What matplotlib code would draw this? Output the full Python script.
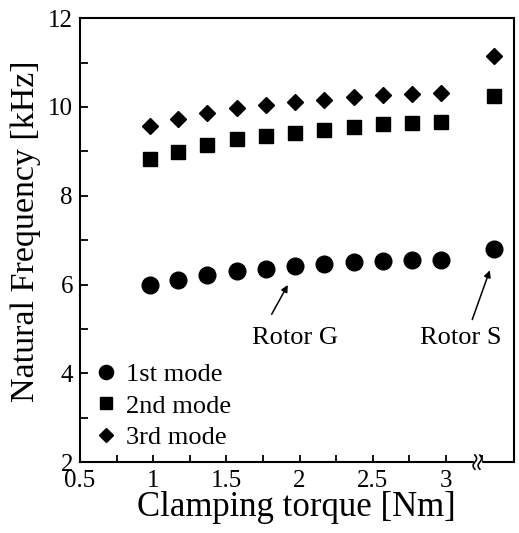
import numpy as np
import matplotlib
matplotlib.use("Agg")
import matplotlib.pyplot as plt
from matplotlib.ticker import MultipleLocator

plt.rcParams['font.family'] = ['Liberation Serif', 'DejaVu Serif']

# clamping torque [Nm] for rotor G, rotor S is drawn past the axis break
torque = [0.98, 1.17, 1.37, 1.57, 1.77, 1.97, 2.17, 2.37, 2.57, 2.77, 2.97]
rotor_s_pos = 3.33
mode1 = [6.00, 6.10, 6.21, 6.31, 6.34, 6.42, 6.47, 6.51, 6.53, 6.55, 6.55]
mode2 = [8.82, 8.99, 9.14, 9.27, 9.34, 9.42, 9.48, 9.54, 9.61, 9.63, 9.66]
mode3 = [9.57, 9.72, 9.86, 9.97, 10.05, 10.10, 10.15, 10.23, 10.26, 10.28, 10.31]
rotor_s = [6.81, 10.25, 11.14]
labels = ['1st mode', '2nd mode', '3rd mode']
markers = ['o', 's', 'D']
sizes = [12, 10.5, 8.5]
xticks = [0.5, 1, 1.5, 2, 2.5, 3]
xticklabels = ['0.5', '1', '1.5', '2', '2.5', '3']

fig = plt.figure(figsize=(5.19, 5.33), dpi=100)
ax = fig.add_axes([0.154, 0.133, 0.836, 0.833])

for ys, yS, lab, m, s in zip([mode1, mode2, mode3], rotor_s, labels, markers, sizes):
    ax.plot(torque + [rotor_s_pos], ys + [yS], ls='none', marker=m, ms=s,
            color='black', label=lab)

ax.set_xlim(0.5, 3.464)
ax.set_ylim(2, 12)
ax.set_xticks(xticks)
ax.set_xticklabels(xticklabels)
ax.xaxis.set_minor_locator(MultipleLocator(0.25))
ax.yaxis.set_major_locator(MultipleLocator(2))
ax.yaxis.set_minor_locator(MultipleLocator(1))
ax.tick_params(axis='both', which='both', direction='in', top=False, right=False,
               labelsize=18, width=1.3)
ax.tick_params(axis='x', which='both', length=5, pad=6)
ax.tick_params(axis='y', which='both', length=6, pad=5)
for sp in ax.spines.values():
    sp.set_linewidth(1.5)

ax.set_xlabel('Clamping torque [Nm]', fontsize=25, labelpad=-1)
ax.set_ylabel('Natural Frequency [kHz]', fontsize=24.5)
ax.yaxis.set_label_coords(-0.09, 0.52)

# axis break mark
xb = 3.215
trans = ax.get_xaxis_transform()
ax.add_patch(plt.Rectangle((xb - 0.022, -0.01), 0.044, 0.02, transform=trans,
                           color='white', clip_on=False, zorder=5))
t = np.linspace(-1, 1, 40)
for dx in (-0.017, 0.017):
    ax.plot(xb + dx + 0.012 * np.sin(t * np.pi), t * 0.016, transform=trans,
            color='black', lw=1.2, clip_on=False, zorder=6)

arrow = dict(arrowstyle='-|>', color='black', lw=1.1, shrinkA=0, shrinkB=0,
             mutation_scale=10)
ax.text(1.97, 4.79, 'Rotor G', fontsize=19, ha='center', va='center')
ax.annotate('', xy=(1.92, 5.99), xytext=(1.81, 5.33), arrowprops=arrow)
ax.text(3.10, 4.79, 'Rotor S', fontsize=19, ha='center', va='center')
ax.annotate('', xy=(3.30, 6.32), xytext=(3.18, 5.21), arrowprops=arrow)

leg = ax.legend(loc='lower left', bbox_to_anchor=(0.0, 0.006), frameon=False,
                fontsize=19, handletextpad=0.15, labelspacing=0.3,
                markerscale=0.85, handlelength=1.2, borderaxespad=0)

fig.savefig('out.png', dpi=100)
